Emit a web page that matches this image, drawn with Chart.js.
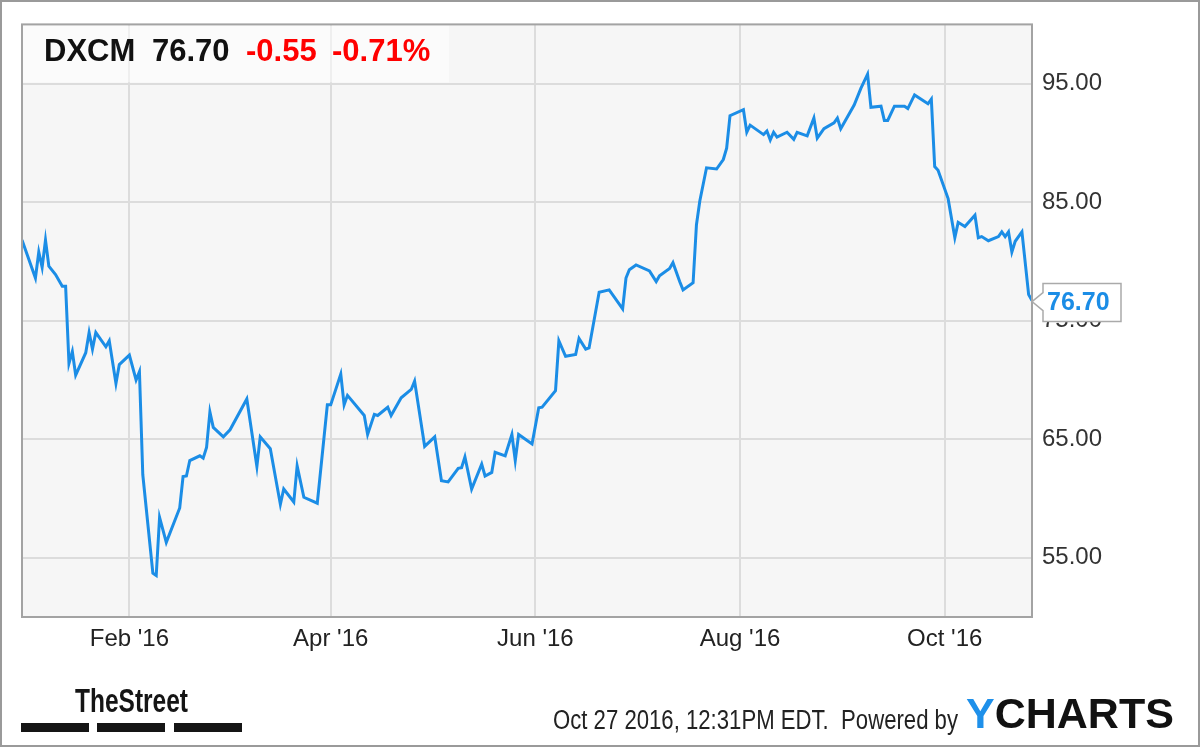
<!DOCTYPE html>
<html>
<head>
<meta charset="utf-8">
<title>DXCM</title>
<script src="https://cdn.jsdelivr.net/npm/chart.js@4.4.0/dist/chart.umd.min.js"></script>
<style>
  html, body { margin: 0; padding: 0; background: #fff; }
  #wrap { width: 1200px; height: 747px; }
</style>
</head>
<body>
<div id="wrap"><canvas id="myChart" width="1200" height="747"></canvas></div>
<script>
// days counted from Jan 1 2016 (Dec 31 2015 = -1)
var tradeDays = [-1, 3, 4, 5, 6, 7, 9, 11, 12, 13, 14, 15, 18, 19, 20, 21, 24, 25, 27, 28,
  31, 33, 34, 35, 38, 39, 40, 42, 46, 47, 48, 49, 52, 53, 54, 55, 56, 59, 61, 66,
  69, 70, 73, 76, 77, 80, 81, 83, 87, 90, 91, 94, 95, 96, 101, 102, 104, 105, 108, 109,
  112, 115, 116, 119, 122, 124, 126, 129, 130, 131, 133, 136, 137, 139, 140, 143, 145, 146, 147, 151,
  153, 154, 158, 159, 161, 164, 165, 167, 168, 171, 174, 178, 179, 180, 182, 186, 188, 189, 192, 193,
  195, 196, 199, 200, 201, 203, 206, 208, 209, 210, 214, 215, 216, 220, 221, 222, 223, 224, 227, 229,
  230, 233, 235, 236, 238, 241, 242, 243, 247, 249, 251, 252, 255, 256, 257, 259, 262, 263, 265, 269,
  270, 271, 272, 275, 277, 278, 280, 283, 284, 285, 287, 290, 291, 292, 293, 294, 295, 297, 299, 300];
var closes = [81.8, 78.6, 80.8, 79.5, 81.8, 79.6, 78.9, 77.9, 77.9, 71.4, 72.4, 70.4, 72.3, 74.0, 72.6, 74.0, 72.8, 73.3, 69.7, 71.3,
  72.1, 70.0, 70.7, 62.0, 53.7, 53.5, 58.4, 56.3, 59.2, 61.85, 61.9, 63.2, 63.6, 63.4, 64.3, 67.3, 66.0, 65.2, 65.8, 68.4,
  62.7, 65.2, 64.2, 59.5, 60.8, 59.7, 62.75, 60.1, 59.6, 67.9, 67.9, 70.5, 67.9, 68.7, 67.0, 65.4, 67.1, 67.0, 67.7, 67.0,
  68.5, 69.2, 69.9, 64.4, 65.2, 61.5, 61.4, 62.55, 62.6, 63.5, 60.8, 62.9, 61.9, 62.2, 63.9, 63.6, 65.4, 63.2, 65.4, 64.6,
  67.65, 67.7, 69.1, 73.3, 72.0, 72.15, 73.5, 72.6, 72.7, 77.4, 77.6, 76.0, 78.6, 79.3, 79.7, 79.2, 78.3, 78.8, 79.4, 79.9,
  78.3, 77.6, 78.2, 83.1, 85.1, 87.9, 87.8, 88.6, 89.55, 92.3, 92.8, 90.9, 91.5, 90.7, 91.0, 90.25, 90.9, 90.5, 90.9, 90.3,
  90.9, 90.6, 92.1, 90.4, 91.2, 91.7, 92.1, 91.2, 93.2, 94.6, 95.8, 93.0, 93.1, 91.9, 91.9, 93.1, 93.1, 92.9, 94.05, 93.3,
  93.7, 88.0, 87.7, 85.3, 82.0, 83.3, 82.95, 83.9, 82.0, 82.1, 81.75, 82.1, 82.5, 82.1, 82.5, 80.8, 81.7, 82.5, 77.2, 76.7];

var xTickDays = [31, 91, 152, 213, 274];
var xTickLabels = ["Feb '16", "Apr '16", "Jun '16", "Aug '16", "Oct '16"];
var yTickValues = [55, 65, 75, 85, 95];

var ticker = "DXCM";
var priceChange = -0.55;
var pctChange = -0.71;

var FONT = '"Liberation Sans", Arial, sans-serif';
var lineColor = "#1b8de6";

function fitText(ctx, text, x, y, w) {
  var m = ctx.measureText(text).width;
  ctx.save();
  ctx.translate(x, y);
  ctx.scale(w / m, 1);
  ctx.fillText(text, 0, 0);
  ctx.restore();
}

var decor = {
  id: "decor",
  beforeDraw: function (chart) {
    var ctx = chart.ctx, a = chart.chartArea;
    ctx.save();
    ctx.fillStyle = "#fff";
    ctx.fillRect(0, 0, chart.width, chart.height);
    ctx.fillStyle = "#f6f6f6";
    ctx.fillRect(a.left, a.top, a.right - a.left, a.bottom - a.top);
    ctx.restore();
  },
  afterDraw: function (chart) {
    var ctx = chart.ctx, a = chart.chartArea;
    var xs = chart.scales.x, ys = chart.scales.y;
    ctx.save();

    // header box
    ctx.fillStyle = "rgba(255,255,255,0.55)";
    ctx.fillRect(a.left + 1, a.top + 1, 426, 57);
    var last = closes[closes.length - 1];
    ctx.textBaseline = "alphabetic";
    ctx.font = "bold 31px " + FONT;
    ctx.fillStyle = "#111";
    ctx.fillText(ticker, 44, 61);
    ctx.fillText(last.toFixed(2), 152, 61);
    ctx.fillStyle = "#ff0000";
    ctx.fillText(priceChange.toFixed(2), 246, 61);
    ctx.fillText(pctChange.toFixed(2) + "%", 332, 61);

    // plot frame
    ctx.strokeStyle = "#a3a3a3";
    ctx.lineWidth = 2;
    ctx.strokeRect(a.left, a.top, a.right - a.left, a.bottom - a.top);

    // last value callout
    var px = xs.getPixelForValue(tradeDays[tradeDays.length - 1]);
    var py = ys.getPixelForValue(last);
    var bx = px + 11, by = py - 17, bw = 78, bh = 38;
    ctx.beginPath();
    ctx.moveTo(px, py + 1);
    ctx.lineTo(bx, py - 8);
    ctx.lineTo(bx, by);
    ctx.lineTo(bx + bw, by);
    ctx.lineTo(bx + bw, by + bh);
    ctx.lineTo(bx, by + bh);
    ctx.lineTo(bx, py + 10);
    ctx.closePath();
    ctx.fillStyle = "#fff";
    ctx.fill();
    ctx.strokeStyle = "#aaaaaa";
    ctx.lineWidth = 1.5;
    ctx.stroke();
    ctx.fillStyle = lineColor;
    ctx.font = "bold 25px " + FONT;
    ctx.textBaseline = "middle";
    ctx.fillText(last.toFixed(2), bx + 4, py + 3);

    // footer
    ctx.textBaseline = "alphabetic";
    ctx.fillStyle = "#151515";
    ctx.font = "bold 33px " + FONT;
    fitText(ctx, "TheStreet", 75, 712, 113);
    ctx.fillRect(21, 723, 68, 9);
    ctx.fillRect(97, 723, 68, 9);
    ctx.fillRect(174, 723, 68, 9);

    ctx.fillStyle = "#222";
    ctx.font = "27px " + FONT;
    fitText(ctx, "Oct 27 2016, 12:31PM EDT.  Powered by", 553, 729, 405);

    ctx.font = "bold 43px " + FONT;
    var yw = ctx.measureText("Y").width;
    ctx.fillStyle = "#1e90ea";
    ctx.fillText("Y", 966, 728);
    ctx.fillStyle = "#111";
    ctx.fillText("CHARTS", 966 + yw, 728);

    // outer frame
    ctx.strokeStyle = "#9a9a9a";
    ctx.lineWidth = 2;
    ctx.strokeRect(1, 1, chart.width - 2, chart.height - 2);
    ctx.restore();
  }
};

var points = tradeDays.map(function (d, i) {
  return { x: d, y: closes[i] };
});

new Chart("myChart", {
  type: "line",
  data: {
    datasets: [
      {
        data: points,
        borderColor: lineColor,
        borderWidth: 3,
        pointRadius: 0,
        tension: 0,
        fill: false
      }
    ]
  },
  options: {
    responsive: false,
    animation: false,
    events: [],
    layout: { padding: { left: 22, top: 22, right: 0, bottom: 0 } },
    plugins: {
      legend: { display: false },
      tooltip: { enabled: false }
    },
    scales: {
      x: {
        type: "linear",
        min: -1,
        max: 300,
        afterBuildTicks: function (scale) {
          scale.ticks = xTickDays.map(function (v) { return { value: v }; });
        },
        afterFit: function (scale) { scale.height = 130; },
        grid: { color: "#dcdcdc", lineWidth: 2, drawTicks: false },
        border: { display: false },
        ticks: {
          padding: 8,
          color: "#222",
          font: { family: FONT, size: 24 },
          maxRotation: 0,
          autoSkip: false,
          callback: function (value) {
            var i = xTickDays.indexOf(value);
            return i >= 0 ? xTickLabels[i] : "";
          }
        }
      },
      y: {
        position: "right",
        min: 50,
        max: 100,
        afterBuildTicks: function (scale) {
          scale.ticks = yTickValues.map(function (v) { return { value: v }; });
        },
        afterFit: function (scale) { scale.width = 168; },
        grid: { color: "#dcdcdc", lineWidth: 2, drawTicks: false },
        border: { display: false },
        ticks: {
          padding: 10,
          color: "#333",
          font: { family: FONT, size: 24 },
          callback: function (value) { return value.toFixed(2); }
        }
      }
    }
  },
  plugins: [decor]
});
</script>
</body>
</html>
